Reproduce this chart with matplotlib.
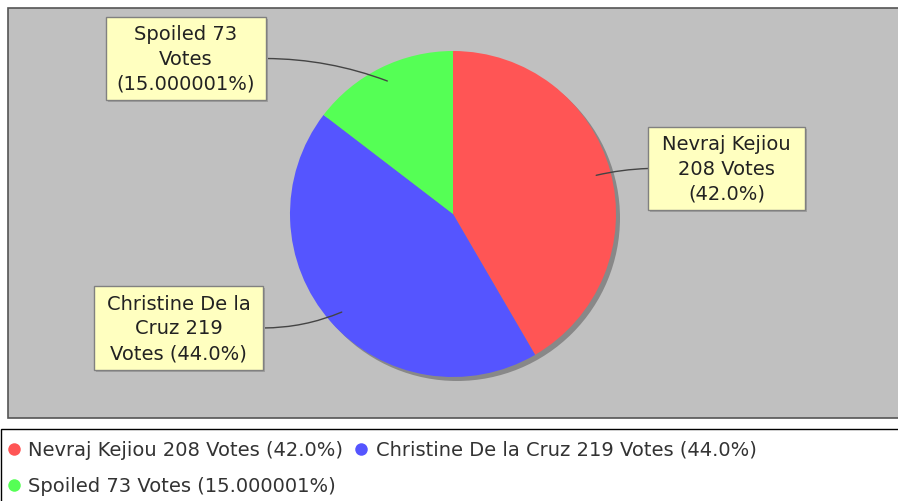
import matplotlib
matplotlib.use("Agg")
import matplotlib.pyplot as plt
import numpy as np
from matplotlib.patches import Rectangle, Circle
from matplotlib.lines import Line2D

plt.rcParams['font.family'] = ['DejaVu Sans']

names = ["Nevraj Kejiou", "Christine De la Cruz", "Spoiled"]
votes = [208, 219, 73]
pct_text = ["42.0%", "44.0%", "15.000001%"]
colors = ["#ff5555", "#5555ff", "#55ff55"]
box_text = ["Nevraj Kejiou\n208 Votes\n(42.0%)",
            "Christine De la\nCruz 219\nVotes (44.0%)",
            "Spoiled 73\nVotes\n(15.000001%)"]

W, H = 898, 501
fig = plt.figure(figsize=(W / 100, H / 100), dpi=100)
ax = fig.add_axes([0, 0, 1, 1])

# plot area
ax.add_patch(Rectangle((8, H - 418), W, 410, facecolor="#c0c0c0",
                       edgecolor="#555555", lw=1.2, zorder=0))

cx, cy, R = 453, H - 214, 163
# shadow
ax.add_patch(Circle((cx + 4, cy - 4), R, facecolor="#888888", edgecolor="none", zorder=1))
wedges, _ = ax.pie(votes, colors=colors, startangle=90, counterclock=False,
                   center=(cx, cy), radius=R, frame=True,
                   wedgeprops=dict(zorder=2, linewidth=0))
ax.set_xlim(0, W)
ax.set_ylim(0, H)
ax.set_aspect("equal")
ax.axis("off")

# label boxes (x0, y0 top, x1, y1 bottom) in pixels
boxes = [(648, 127, 805, 210), (94, 286, 263, 370), (106, 17, 266, 100)]
sides = ["left", "right", "right"]
rads = [0.05, 0.1, -0.09]
for w, txt, (x0, y0, x1, y1), side, rad in zip(wedges, box_text, boxes, sides, rads):
    mid = np.radians((w.theta1 + w.theta2) / 2)
    px, py = cx + 0.91 * R * np.cos(mid), cy + 0.91 * R * np.sin(mid)
    bx = x0 if side == "left" else x1
    by = H - (y0 + y1) / 2
    ax.annotate("", xy=(px, py), xytext=(bx, by),
                arrowprops=dict(arrowstyle="-", color="#444444", lw=1,
                                shrinkA=0, shrinkB=0,
                                connectionstyle="arc3,rad=%g" % rad),
                zorder=3)
    ax.add_patch(Rectangle((x0 + 2, H - y1 - 2), x1 - x0, y1 - y0,
                           facecolor="#a0a0a0", edgecolor="none", zorder=4))
    ax.add_patch(Rectangle((x0, H - y1), x1 - x0, y1 - y0,
                           facecolor="#ffffc0", edgecolor="#808080", lw=1, zorder=5))
    ax.text((x0 + x1) / 2, H - (y0 + y1) / 2 - 1, txt, ha="center", va="center",
            fontsize=14, linespacing=1.38, color="#222222", zorder=6)

# legend frame
ax.add_patch(Rectangle((0.5, -5), W + 10, H - 429 + 5, facecolor="white",
                       edgecolor="black", lw=1, zorder=0))
handles = [Line2D([], [], marker="o", ls="none", markersize=9,
                  markerfacecolor=c, markeredgecolor="none") for c in colors]
labels = ["%s %d Votes (%s)" % (n, v, p) for n, v, p in zip(names, votes, pct_text)]
order = [0, 2, 1]
leg = ax.legend([handles[i] for i in order], [labels[i] for i in order],
                ncol=2, loc="upper left", bbox_to_anchor=(8 / W, (H - 441) / H),
                frameon=False, fontsize=14, handlelength=0.65, handletextpad=0.4,
                columnspacing=0.6, labelspacing=0.87, borderpad=0, borderaxespad=0)
for t in leg.get_texts():
    t.set_color("#333333")

fig.savefig("out.png", dpi=100, facecolor="white")
